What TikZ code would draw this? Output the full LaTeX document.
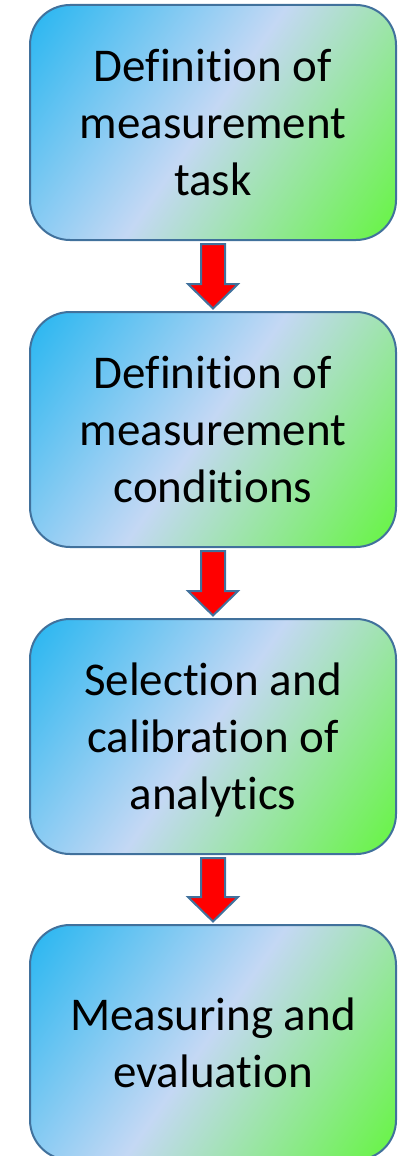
\documentclass[tikz,border=0pt]{standalone}
\usepackage{fontspec}
\setmainfont{Carlito}[Ligatures=NoCommon]
\usetikzlibrary{calc}

\definecolor{gradcyan}{HTML}{1EB4F0}
\definecolor{gradlav}{HTML}{C4D8F4}
\definecolor{gradgreen}{HTML}{66F542}
\definecolor{edgeblue}{HTML}{41719C}
\definecolor{arrowred}{HTML}{FF0000}

% fixed line box so every text block sits the same way in its box
\newcommand{\linestrut}{\rule[-12pt]{0pt}{56pt}}

\begin{document}
\begin{tikzpicture}[x=1pt,y=-1pt,
  stepbox/.style={draw=edgeblue, line width=2pt, rounded corners=40pt,
    minimum width=366pt, minimum height=235pt, inner sep=0pt,
    align=center, font=\fontsize{47}{57}\selectfont},
  fatarrow/.style={draw=edgeblue, line width=2pt, fill=arrowred,
    to path={let \p1=(\tikztostart), \p2=(\tikztotarget) in
      (\x1-12pt,\y1-3pt) -- (\x1+12pt,\y1-3pt) -- (\x1+12pt,\y2+27pt)
      -- (\x1+25pt,\y2+27pt) -- (\x1,\y2+2.5pt) -- (\x1-25pt,\y2+27pt)
      -- (\x1-12pt,\y2+27pt) -- cycle}}]

\useasboundingbox (0,0) rectangle (403,1156);

% diagonal fill of each box: cyan -> lavender -> green
\foreach \cy in {122.5,429.5,736.5,1042.5} {
  \begin{scope}
    \clip[rounded corners=40pt] (30,\cy-117.5) rectangle (396,\cy+117.5);
    \begin{scope}[transform canvas={shift={(213,\cy)}, rotate=-35}]
      \shade[left color=gradcyan, right color=gradgreen, middle color=gradlav]
        (-226,-230) rectangle (214,230);
    \end{scope}
  \end{scope}
}

\node[stepbox] (b1) at (213,122.5)
  {\linestrut Definition of\\\linestrut measurement\\\linestrut task};
\node[stepbox] (b2) at (213,429.5)
  {\linestrut Definition of\\\linestrut measurement\\\linestrut conditions};
\node[stepbox] (b3) at (213,736.5)
  {\linestrut Selection and\\\linestrut calibration of\\\linestrut analytics};
\node[stepbox] (b4) at (213,1042.5)
  {\linestrut Measuring and\\\linestrut evaluation};

\draw[fatarrow] (b1.south) to (b2.north);
\draw[fatarrow] (b2.south) to (b3.north);
\draw[fatarrow] (b3.south) to (b4.north);

\end{tikzpicture}
\end{document}
